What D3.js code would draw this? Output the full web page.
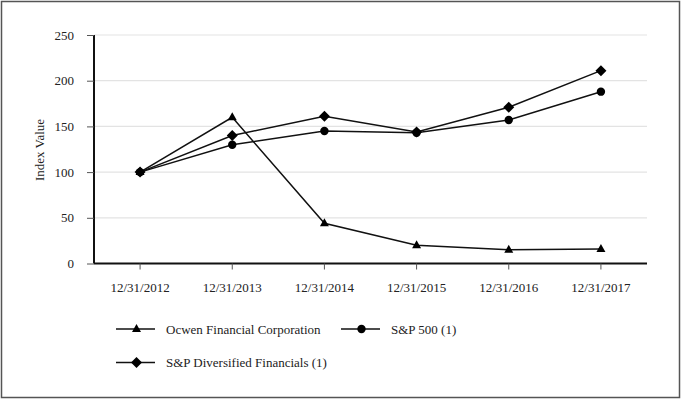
<!DOCTYPE html>
<html>
<head>
<meta charset="utf-8">
<script src="https://cdn.jsdelivr.net/npm/d3@7"></script>
<style>
html,body{margin:0;padding:0;background:#fff;}
svg text{font-family:"Liberation Serif","Times New Roman",serif;fill:#222;}
</style>
</head>
<body>
<svg id="chart" width="682" height="400"></svg>
<script>
const categories = ["12/31/2012","12/31/2013","12/31/2014","12/31/2015","12/31/2016","12/31/2017"];
const ocwen = [100,160,44,20,15,16];
const sp500 = [100,130,145,143,157,188];
const spDivFin = [100,140,161,144,171,211];
const yTicks = [0,50,100,150,200,250];
const seriesNames = ["Ocwen Financial Corporation","S&P 500 (1)","S&P Diversified Financials (1)"];

const series = [
  {name: seriesNames[0], values: ocwen, marker: "triangle"},
  {name: seriesNames[1], values: sp500, marker: "circle"},
  {name: seriesNames[2], values: spDivFin, marker: "diamond"}
];

const svg = d3.select("#chart");
const pLeft = 94, pRight = 647, pTop = 35, pBottom = 263.5;

svg.append("rect").attr("x",1.5).attr("y",1.5).attr("width",678).attr("height",396)
  .attr("fill","none").attr("stroke","#555").attr("stroke-width",1.5);

const x = d3.scaleBand().domain(categories).range([pLeft,pRight]);
const y = d3.scaleLinear().domain([0,250]).range([pBottom,pTop]);

// gridlines
svg.append("g").selectAll("line").data(yTicks.filter(d=>d>0)).join("line")
  .attr("x1",pLeft).attr("x2",pRight).attr("y1",d=>y(d)).attr("y2",d=>y(d))
  .attr("stroke","#e3e3e3").attr("stroke-width",1.2);

// y axis
const yAxis = svg.append("g").attr("transform",`translate(${pLeft},0)`)
  .call(d3.axisLeft(y).tickValues(yTicks).tickSize(7).tickPadding(13));
yAxis.select(".domain").attr("stroke","#111").attr("stroke-width",2).attr("d",`M0,${pTop}V${pBottom}`);
yAxis.selectAll(".tick line").attr("stroke","#555").attr("stroke-width",1);
yAxis.selectAll(".tick text").attr("font-size",13).attr("font-family","Liberation Serif").attr("fill","#222");

// x axis
const xAxis = svg.append("g").attr("transform",`translate(0,${pBottom})`)
  .call(d3.axisBottom(x).tickSize(6).tickPadding(13));
xAxis.select(".domain").attr("stroke","#111").attr("stroke-width",2).attr("d",`M${pLeft},0H${pRight}`);
xAxis.selectAll(".tick line").attr("stroke","#555").attr("stroke-width",1);
xAxis.selectAll(".tick text").attr("font-size",13).attr("font-family","Liberation Serif").attr("fill","#222");

// y title
svg.append("text").attr("transform",`translate(44,150) rotate(-90)`)
  .attr("text-anchor","middle").attr("font-size",13).text("Index Value");

const cx = d => x(d) + x.bandwidth()/2;
const line = d3.line().x((d,i)=>cx(categories[i])).y(d=>y(d));

function drawMarker(g, type, px, py){
  if(type==="triangle"){
    g.append("path").attr("d",`M${px},${py-5}L${px+4.5},${py+3}L${px-4.5},${py+3}Z`).attr("fill","#000");
  } else if(type==="circle"){
    g.append("circle").attr("cx",px).attr("cy",py).attr("r",4.2).attr("fill","#000");
  } else {
    g.append("path").attr("d",`M${px},${py-5.5}L${px+5.5},${py}L${px},${py+5.5}L${px-5.5},${py}Z`).attr("fill","#000");
  }
}

series.forEach(s=>{
  svg.append("path").datum(s.values).attr("d",line).attr("fill","none")
    .attr("stroke","#111").attr("stroke-width",1.5);
});
series.forEach(s=>{
  const g = svg.append("g");
  s.values.forEach((v,i)=>drawMarker(g, s.marker, cx(categories[i]), y(v)));
});

// legend
const legendItems = [
  {s: series[0], x: 116, y: 329},
  {s: series[1], x: 341, y: 329},
  {s: series[2], x: 116, y: 362.5}
];
legendItems.forEach(it=>{
  const g = svg.append("g");
  g.append("line").attr("x1",it.x).attr("x2",it.x+39).attr("y1",it.y).attr("y2",it.y)
    .attr("stroke","#111").attr("stroke-width",1.5);
  drawMarker(g, it.s.marker, it.x+20.5, it.y);
  g.append("text").attr("x",it.x+50).attr("y",it.y+4.5).attr("font-size",13).text(it.s.name);
});
</script>
</body>
</html>
